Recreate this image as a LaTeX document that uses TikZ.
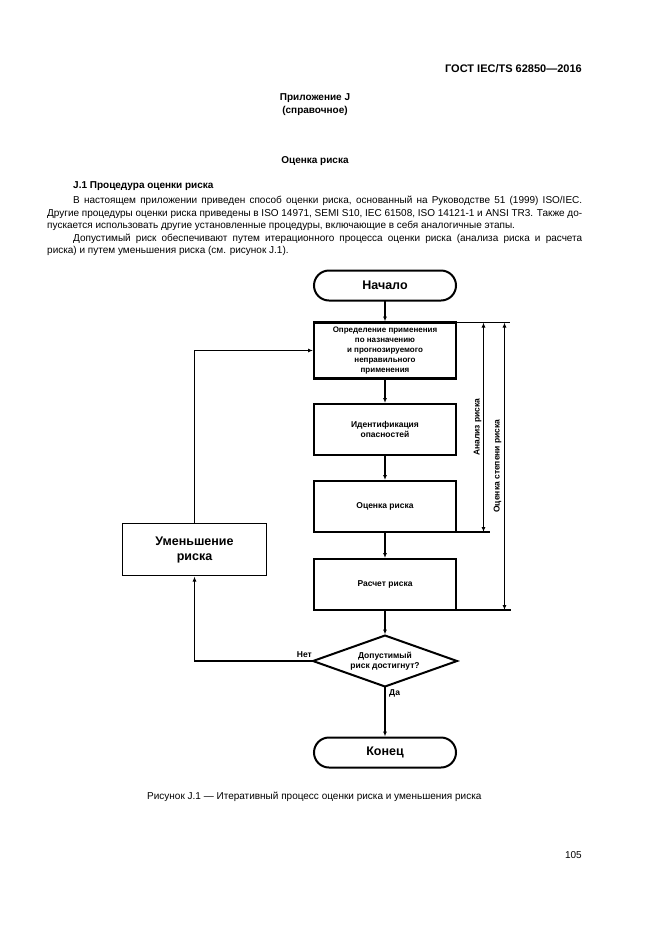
\documentclass[tikz,border=0pt]{standalone}
\usepackage{fontspec}
\setmainfont{Liberation Sans}
\usetikzlibrary{arrows.meta,shapes.geometric}
\begin{document}
\begin{tikzpicture}[x=1pt,y=-1pt,
  txt/.style={inner sep=0pt, font=\fontsize{10}{12}\selectfont},
  boldtxt/.style={inner sep=0pt, font=\fontsize{10}{12}\bfseries\selectfont},
  stepbox/.style={draw, line width=2.2pt, outer sep=0pt, inner sep=1pt, minimum width=142pt, minimum height=51pt, align=center, font=\fontsize{8.5}{10.5}\bfseries\selectfont},
  term/.style={draw, line width=2pt, outer sep=0pt, rounded corners=15pt, minimum width=142pt, minimum height=30pt, font=\fontsize{12.5}{14}\bfseries\selectfont},
  decision/.style={draw, diamond, aspect=2.8, line width=2pt, outer sep=0pt, inner sep=0pt, minimum width=144pt, minimum height=51pt, align=center, font=\fontsize{8.5}{10}\bfseries\selectfont},
  redbox/.style={draw, line width=1.8pt, outer sep=0pt, minimum width=144pt, minimum height=52pt, align=center, font=\fontsize{12.5}{15}\bfseries\selectfont},
  lbl/.style={inner sep=0pt, font=\fontsize{8.5}{10}\bfseries\selectfont},
  arr/.style={line width=1.5pt, -{Latex[length=5pt,width=4pt]}, shorten >=1pt},
  dbl/.style={line width=1.3pt, {Latex[length=5pt,width=4pt]}-{Latex[length=5pt,width=4pt]}},
  ln/.style={line width=1.5pt}]
\useasboundingbox (0,0) rectangle (661,935);
\fill[white] (0,0) rectangle (661,935);

% header texts
\node[inner sep=0pt, anchor=base east, font=\fontsize{11}{13}\bfseries\selectfont] (hdr) at (582,72) {ГОСТ IEC/TS 62850—2016};
\node[boldtxt, anchor=base] (app) at (315,100) {Приложение J};
\node[boldtxt, anchor=base] (ref) at (315,113) {(справочное)};
\node[boldtxt, anchor=base] (ttl) at (315,163) {Оценка риска};
\node[boldtxt, anchor=base west] (sec) at (73,188) {J.1 Процедура оценки риска};

\node[txt, anchor=base west] (p1a) at (73,203) {\makebox[509pt][s]{В настоящем приложении приведен способ оценки риска, основанный на Руководстве 51 (1999) ISO/IEC.}};
\node[txt, anchor=base west] (p1b) at (47,216) {\makebox[535pt][s]{Другие процедуры оценки риска приведены в ISO 14971, SEMI S10, IEC 61508, ISO 14121-1 и ANSI TR3. Также до-}};
\node[txt, anchor=base west] (p1c) at (47,228) {пускается использовать другие установленные процедуры, включающие в себя аналогичные этапы.};
\node[txt, anchor=base west] (p2a) at (73,241) {\makebox[509pt][s]{Допустимый риск обеспечивают путем итерационного процесса оценки риска (анализа риска и расчета}};
\node[txt, anchor=base west] (p2b) at (47,253) {риска) и путем уменьшения риска (см. рисунок J.1).};

% flowchart
\node[term] (start) at (385,285.5) {Начало};
\node[stepbox, minimum height=56pt, font=\fontsize{8}{10}\bfseries\selectfont] (b1) at (385,350.5) {Определение применения\\по назначению\\и прогнозируемого\\неправильного\\применения};
\node[stepbox] (b2) at (385,429.5) {Идентификация\\опасностей};
\node[stepbox] (b3) at (385,506.5) {Оценка риска};
\node[stepbox] (b4) at (385,584.5) {Расчет риска};
\node[decision] (dec) at (385,661) {Допустимый\\риск достигнут?};
\node[term] (end) at (385,752.5) {Конец};
\node[redbox] (red) at (194.5,549.5) {Уменьшение\\риска};

\draw[arr] (start.south) -- (b1.north);
\draw[arr] (b1.south) -- (b2.north);
\draw[arr] (b2.south) -- (b3.north);
\draw[arr] (b3.south) -- (b4.north);
\draw[arr] (b4.south) -- (dec.north);
\draw[arr] (dec.south) -- (end.north);
\draw[arr] (dec.west) -- (dec.west -| red.south) -- (red.south);
\draw[arr] (red.north) |- (b1.west);

\node[lbl, anchor=south east] (no) at (312,658) {Нет};
\node[lbl, anchor=north west] (yes) at (389,689) {Да};

% brackets
\coordinate (ix) at (483.5,0);
\coordinate (ox) at (504.5,0);
\coordinate (topend) at (510,322);
\coordinate (iend) at (490,0);
\coordinate (oend) at (511,0);
\draw[ln] (b1.north east) -- (b1.north east -| topend);
\draw[ln] (b3.south east) -- (b3.south east -| iend);
\draw[ln] (b4.south east) -- (b4.south east -| oend);
\draw[dbl] (b1.north east -| ix) -- (b3.south east -| ix);
\draw[dbl] (b1.north east -| ox) -- (b4.south east -| ox);
\node[lbl, rotate=90] (ana) at (477.5,427) {Анализ риска};
\node[lbl, rotate=90] (ocs) at (497.5,466) {Оценка степени риска};

% caption
\node[txt, anchor=base west] (cap) at (147,799) {Рисунок J.1 — Итеративный процесс оценки риска и уменьшения риска};
\node[txt, anchor=base east] (pg) at (582,858) {105};
\end{tikzpicture}
\end{document}
